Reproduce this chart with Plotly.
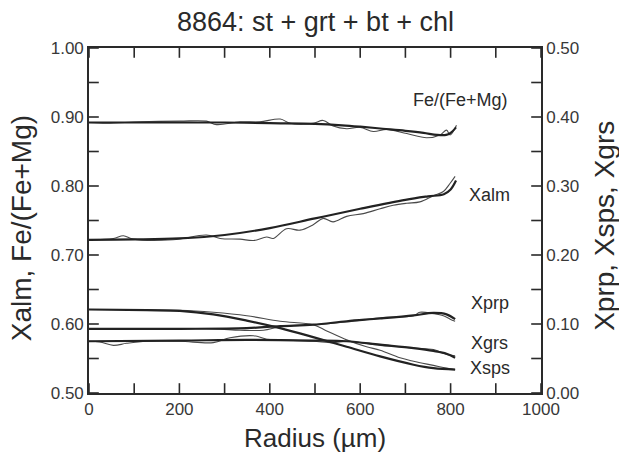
import plotly.graph_objects as go

# ---------------- data ----------------
# Fe/(Fe+Mg) – left axis
femg_model_r = [0, 100, 200, 300, 400, 500, 560, 600, 650, 700, 740, 770, 790, 800, 812]
femg_model_v = [0.892, 0.892, 0.892, 0.892, 0.891, 0.890, 0.888, 0.886, 0.883, 0.880, 0.877, 0.874, 0.874, 0.877, 0.885]
femg_data_r = [0, 39, 113, 201, 260, 282, 334, 378, 423, 445, 496, 518, 540, 570, 600, 629, 659, 703, 747, 777, 791, 799, 813]
femg_data_v = [0.892, 0.891, 0.893, 0.894, 0.894, 0.889, 0.893, 0.893, 0.897, 0.891, 0.891, 0.895, 0.887, 0.883, 0.885, 0.879, 0.882, 0.876, 0.870, 0.874, 0.881, 0.874, 0.888]

# Xalm – left axis
alm_model_r = [0, 100, 200, 300, 400, 500, 600, 700, 750, 785, 800, 812]
alm_model_v = [0.722, 0.7225, 0.724, 0.729, 0.739, 0.753, 0.767, 0.780, 0.785, 0.788, 0.795, 0.808]
alm_data_r = [0, 54, 76, 98, 186, 260, 290, 334, 364, 393, 408, 437, 467, 496, 518, 540, 570, 607, 644, 673, 703, 732, 762, 784, 799, 810]
alm_data_v = [0.722, 0.724, 0.728, 0.723, 0.722, 0.729, 0.724, 0.723, 0.721, 0.726, 0.724, 0.738, 0.736, 0.744, 0.753, 0.748, 0.756, 0.760, 0.767, 0.772, 0.775, 0.777, 0.786, 0.792, 0.804, 0.814]

# Xprp – right axis
prp_model_r = [0, 201, 349, 423, 496, 570, 644, 718, 762, 791, 810]
prp_model_v = [0.093, 0.093, 0.094, 0.097, 0.099, 0.104, 0.108, 0.1125, 0.116, 0.114, 0.107]
prp_data_r = [0, 128, 275, 334, 386, 423, 496, 570, 644, 718, 732, 762, 784, 799, 810]
prp_data_v = [0.093, 0.092, 0.093, 0.091, 0.091, 0.096, 0.099, 0.103, 0.109, 0.112, 0.117, 0.115, 0.112, 0.107, 0.104]

# Xsps – right axis
sps_model_r = [0, 128, 201, 275, 349, 423, 496, 570, 644, 718, 762, 810]
sps_model_v = [0.121, 0.120, 0.119, 0.114, 0.105, 0.094, 0.081, 0.067, 0.053, 0.041, 0.036, 0.034]
sps_data_r = [0, 201, 275, 349, 423, 496, 526, 570, 614, 644, 688, 718, 762, 791, 810]
sps_data_v = [0.121, 0.120, 0.117, 0.112, 0.104, 0.099, 0.090, 0.077, 0.067, 0.062, 0.051, 0.046, 0.040, 0.036, 0.034]

# Xgrs – right axis
grs_model_r = [0, 201, 349, 496, 570, 644, 718, 762, 791, 810]
grs_model_v = [0.075, 0.076, 0.077, 0.076, 0.075, 0.070, 0.065, 0.061, 0.057, 0.051]
grs_data_r = [0, 24, 54, 83, 128, 201, 275, 312, 364, 393, 423, 496, 540, 570, 644, 688, 718, 762, 791, 810]
grs_data_v = [0.075, 0.074, 0.069, 0.072, 0.075, 0.075, 0.073, 0.080, 0.083, 0.078, 0.077, 0.075, 0.073, 0.075, 0.069, 0.067, 0.065, 0.063, 0.056, 0.054]

x_ticks = [0, 200, 400, 600, 800, 1000]
left_ticks = [0.50, 0.60, 0.70, 0.80, 0.90, 1.00]
right_ticks = [0.00, 0.10, 0.20, 0.30, 0.40, 0.50]

# ---------------- figure ----------------
FONT = "Liberation Sans, Arial, Helvetica, sans-serif"
INK = "#2a2a2a"
MODEL = dict(color="#222222", width=2.2)
DATA = dict(color="#4a4a4a", width=1.1)

fig = go.Figure()
for r, v, ax in [
    (femg_data_r, femg_data_v, "y"), (alm_data_r, alm_data_v, "y"),
    (prp_data_r, prp_data_v, "y2"), (sps_data_r, sps_data_v, "y2"), (grs_data_r, grs_data_v, "y2"),
]:
    fig.add_trace(go.Scatter(x=r, y=v, yaxis=ax, mode="lines", line=DATA, showlegend=False,
                             line_shape="spline", hoverinfo="skip"))
for r, v, ax in [
    (femg_model_r, femg_model_v, "y"), (alm_model_r, alm_model_v, "y"),
    (prp_model_r, prp_model_v, "y2"), (sps_model_r, sps_model_v, "y2"), (grs_model_r, grs_model_v, "y2"),
]:
    fig.add_trace(go.Scatter(x=r, y=v, yaxis=ax, mode="lines", line=MODEL, showlegend=False,
                             line_shape="spline", hoverinfo="skip"))


def all_ticks(ticks):
    # labelled ticks plus an unlabelled tick half-way between each pair
    vals = []
    for i, t in enumerate(ticks):
        vals.append(t)
        if i + 1 < len(ticks):
            vals.append((t + ticks[i + 1]) / 2)
    return vals


# inward tick marks: line markers centred on the frame, clipped to the plot area
# so that only the inner half (7 px) is visible
def tick_trace(xs, ys, symbol, yaxis):
    return go.Scatter(x=xs, y=ys, yaxis=yaxis, mode="markers", cliponaxis=True,
                      marker=dict(symbol=symbol, size=14, color=INK,
                                  line=dict(color=INK, width=1.6)),
                      showlegend=False, hoverinfo="skip")


xt = all_ticks(x_ticks)
lt = all_ticks(left_ticks)
rt = all_ticks(right_ticks)
fig.add_trace(tick_trace(xt, [left_ticks[0]] * len(xt), "line-ns", "y"))
fig.add_trace(tick_trace(xt, [left_ticks[-1]] * len(xt), "line-ns", "y"))
fig.add_trace(tick_trace([x_ticks[0]] * len(lt), lt, "line-ew", "y"))
fig.add_trace(tick_trace([x_ticks[-1]] * len(rt), rt, "line-ew", "y2"))


def axis_style(ticks, fmt):
    return dict(range=[ticks[0], ticks[-1]], tickmode="array", tickvals=ticks,
                ticktext=[format(t, fmt) for t in ticks],
                showgrid=False, zeroline=False, showline=True,
                linecolor=INK, linewidth=1.6, ticks="",
                tickfont=dict(family=FONT, size=17, color="#383838"))


fig.update_layout(
    width=619, height=458,
    margin=dict(l=89, r=78, t=48, b=65),
    paper_bgcolor="white", plot_bgcolor="white",
    font=dict(family=FONT, color=INK),
    xaxis=dict(mirror=True, **axis_style(x_ticks, "d")),
    yaxis=axis_style(left_ticks, ".2f"),
    yaxis2=dict(overlaying="y", side="right", **axis_style(right_ticks, ".2f")),
)

# title and axis titles
fig.add_annotation(text="8864: st + grt + bt + chl", xref="paper", yref="paper", x=0.5, y=1.075,
                   xanchor="center", yanchor="middle",
                   showarrow=False, font=dict(family=FONT, size=27, color=INK))
fig.add_annotation(text="Radius (µm)", xref="paper", yref="paper", x=0.501, y=-0.130,
                   xanchor="center", yanchor="middle",
                   showarrow=False, font=dict(family=FONT, size=26, color=INK))
fig.add_annotation(text="Xalm, Fe/(Fe+Mg)", xref="paper", yref="paper", x=-0.150, y=0.478,
                   xanchor="center", yanchor="middle",
                   textangle=-90, showarrow=False, font=dict(family=FONT, size=28, color=INK))
fig.add_annotation(text="Xprp, Xsps, Xgrs", xref="paper", yref="paper", x=1.139, y=0.484,
                   xanchor="center", yanchor="middle",
                   textangle=-90, showarrow=False, font=dict(family=FONT, size=28, color=INK))

labels = [("Fe/(Fe+Mg)", 821, 0.925), ("Xalm", 887, 0.787), ("Xprp", 887, 0.630),
          ("Xgrs", 887, 0.572), ("Xsps", 887, 0.536)]
for txt, xx, yy in labels:
    fig.add_annotation(text=txt, x=xx, y=yy, xref="x", yref="y", showarrow=False,
                       xanchor="center", yanchor="middle",
                       font=dict(family=FONT, size=18, color=INK))

# no modebar; remove the page's default 8px body margin so the figure fills the window exactly
fig.write_html("out.html", config={"displayModeBar": False},
               post_script="document.body.style.margin='0px';")
